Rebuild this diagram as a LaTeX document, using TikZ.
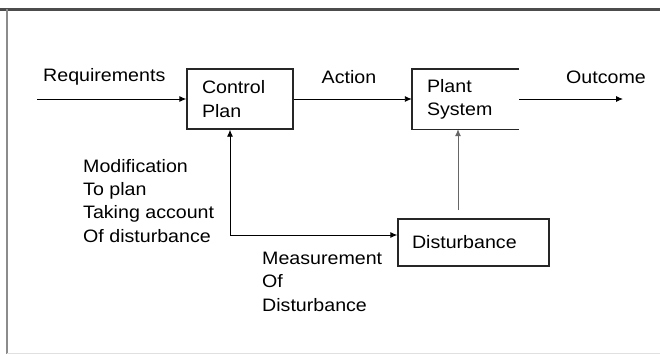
\documentclass[tikz,border=0pt]{standalone}
\usepackage{fontspec}
\setmainfont{Liberation Sans}[FakeStretch=1.09]
\usetikzlibrary{arrows.meta,calc}
\begin{document}
\begin{tikzpicture}[x=1pt,y=-1pt,
  font=\fontsize{18}{23.3}\selectfont,
  boxstyle/.style={draw=black!85,line width=1.4pt,align=left,inner ysep=0pt},
  lbl/.style={inner sep=0pt,align=left},
  conn/.style={line width=0.9pt,-{Latex[length=7pt,width=6pt]}}]
\useasboundingbox (0,0) rectangle (660,354);
% frame
\draw[black!70,line width=3pt] (0,9) -- (660,9);
\draw[black!45,line width=2.5pt] (7,9) -- (7,354);
\draw[black!12,line width=1pt] (7,353.5) -- (660,353.5);
% boxes
\node[boxstyle,minimum width=106pt,minimum height=60pt,text width=76pt,inner xsep=15pt] (ctrl) at (240,99) {Control\\Plan};
\node[align=left,inner ysep=0pt,minimum width=107pt,minimum height=60pt,text width=77pt,inner xsep=15pt] (plant) at (465.5,99) {Plant\\System};
\draw[black!85,line width=1.4pt] (plant.north east) -- (plant.north west) -- (plant.south west) -- (plant.south east);
\node[boxstyle,minimum width=151pt,minimum height=47pt,text width=123pt,inner xsep=14pt] (dist) at (473.5,242.5) {Disturbance};
% coordinates
\coordinate (req) at (37,99);
\coordinate (out) at (623,99);
\coordinate (dtop) at (458,210);
\coordinate (fb) at (230,235);
% connectors
\draw[conn] (req) -- (ctrl.west);
\draw[conn] (ctrl.east) -- (plant.west);
\draw[conn] (plant.east) -- (out);
\draw[conn,black!60] (dtop) -- (dtop |- plant.south);
\draw[conn,{Latex[length=7pt,width=6pt]}-{Latex[length=7pt,width=6pt]}] (fb |- ctrl.south) -- (fb) -- (fb -| dist.west);
% labels
\node[lbl,anchor=west] (lreq) at (43,77) {Requirements};
\node[lbl] (lact) at (349,77) {Action};
\node[lbl] (lout) at (606,77) {Outcome};
\node[lbl,anchor=north west] (lmod) at (83,159) {Modification\\To plan\\Taking account\\Of disturbance};
\node[lbl,anchor=north west] (lmeas) at (262,252) {Measurement\\Of\\Disturbance};
\end{tikzpicture}
\end{document}
